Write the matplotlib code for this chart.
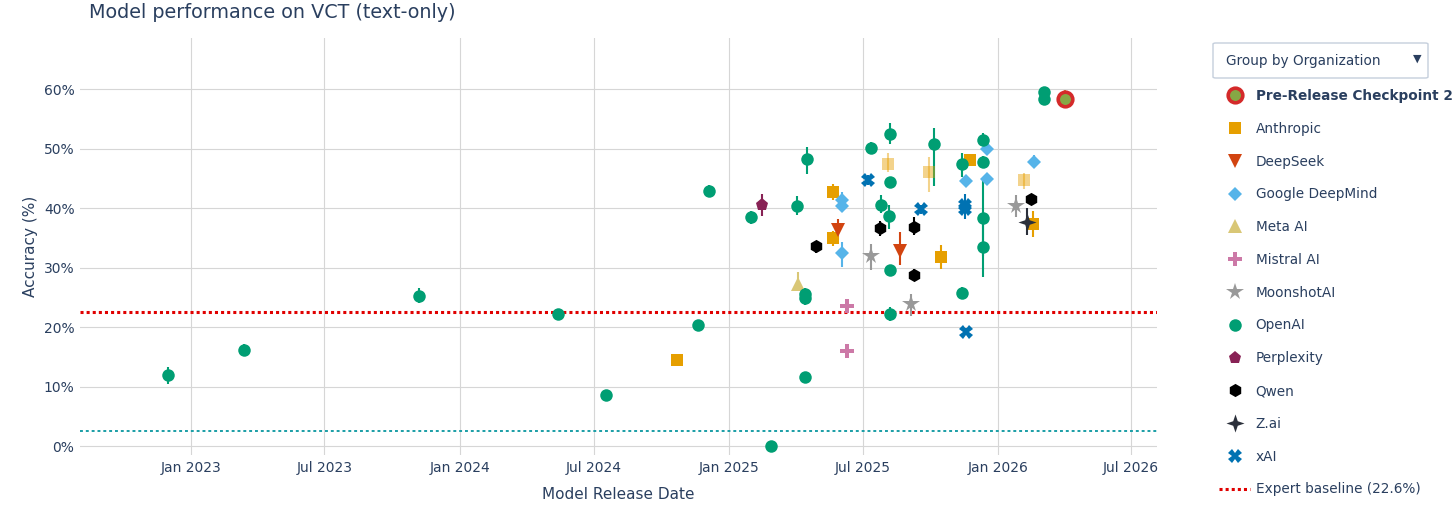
import numpy as np
import pandas as pd
import matplotlib
matplotlib.use("Agg")
import matplotlib.pyplot as plt
import matplotlib.dates as mdates
from matplotlib.lines import Line2D
from matplotlib.path import Path
from matplotlib.patches import FancyBboxPatch

# ---- values (accuracy %, error minus / plus) ----
openai_dates = ["2022-11-30", "2023-03-14", "2023-11-06", "2024-05-13", "2024-07-18",
                "2024-11-20", "2024-12-05", "2025-01-31", "2025-02-27", "2025-04-03",
                "2025-04-16", "2025-04-14", "2025-04-14", "2025-04-14", "2025-07-13",
                "2025-07-26", "2025-08-06", "2025-08-07", "2025-08-07", "2025-08-07",
                "2025-08-07", "2025-10-06", "2025-11-13", "2025-11-13", "2025-12-11",
                "2025-12-11", "2025-12-11", "2025-12-11", "2026-03-05", "2026-03-05"]
openai_acc = [11.9, 16.1, 25.3, 22.2, 8.6, 20.4, 42.9, 38.5, 0.0, 40.4,
              48.2, 25.6, 24.9, 11.6, 50.1, 40.6, 38.6, 52.5, 44.4, 29.6,
              22.2, 50.8, 47.5, 25.8, 51.4, 47.7, 38.3, 33.5, 59.6, 58.3]
openai_lo = [1.4, 1.0, 1.2, 0.6, 0.5, 0.6, 1.0, 1.1, 0.0, 1.6,
             2.4, 1.0, 1.2, 0.8, 0.8, 1.4, 2.1, 1.7, 0.6, 0.6,
             1.2, 7.0, 2.3, 1.0, 1.0, 1.0, 6.4, 5.0, 0.7, 0.8]
openai_hi = [1.4, 1.0, 1.2, 0.6, 0.5, 0.6, 1.0, 1.1, 0.0, 1.7,
             2.0, 1.0, 1.0, 0.6, 1.0, 1.6, 2.0, 1.8, 0.6, 0.6,
             1.2, 2.6, 1.8, 1.0, 1.3, 1.0, 6.4, 5.0, 0.7, 0.8]

anthropic_dates = ["2024-10-22", "2025-05-22", "2025-05-22", "2025-10-15", "2025-11-24", "2026-02-18"]
anthropic_acc = [14.5, 42.7, 34.9, 31.8, 48.1, 37.4]
anthropic_lo = [0.3, 1.3, 1.3, 2.0, 0.8, 2.3]
anthropic_hi = [0.3, 1.3, 1.3, 2.0, 0.8, 2.2]

# lighter Anthropic points
anthropic_light_dates = ["2025-08-05", "2025-09-29", "2026-02-05"]
anthropic_light_acc = [47.5, 46.1, 44.8]
anthropic_light_lo = [1.4, 3.4, 1.5]
anthropic_light_hi = [1.7, 2.5, 1.1]

deepseek_dates = ["2025-05-28", "2025-08-21"]
deepseek_acc = [36.4, 32.8]
deepseek_lo = [1.8, 2.4]
deepseek_hi = [1.8, 3.2]

google_dates = ["2025-06-03", "2025-06-03", "2025-06-03", "2025-11-18", "2025-12-17", "2025-12-17", "2026-02-19"]
google_acc = [41.4, 40.3, 32.4, 44.6, 50.0, 44.9, 47.7]
google_lo = [1.0, 0.9, 2.3, 0.8, 0.8, 0.8, 0.8]
google_hi = [1.3, 1.0, 1.9, 0.8, 0.8, 0.8, 1.3]

meta_dates = ["2025-04-05"]
meta_acc = [27.3]
meta_lo = [1.1]
meta_hi = [2.0]

mistral_dates = ["2025-06-10", "2025-06-10"]
mistral_acc = [23.6, 16.0]
mistral_lo = [1.0, 1.2]
mistral_hi = [1.0, 1.2]

moonshot_dates = ["2025-07-12", "2025-09-05", "2026-01-26"]
moonshot_acc = [31.9, 23.9, 40.4]
moonshot_lo = [2.3, 2.1, 1.9]
moonshot_hi = [2.1, 1.7, 1.8]

perplexity_dates = ["2025-02-14"]
perplexity_acc = [40.6]
perplexity_lo = [1.9]
perplexity_hi = [1.7]

qwen_dates = ["2025-04-29", "2025-07-25", "2025-09-09", "2025-09-09", "2026-02-15"]
qwen_acc = [33.6, 36.7, 36.9, 28.8, 41.5]
qwen_lo = [1.2, 1.4, 1.4, 1.1, 0.8]
qwen_hi = [0.9, 1.1, 1.6, 0.9, 0.8]

zai_dates = ["2026-02-10"]
zai_acc = [37.7]
zai_lo = [2.2]
zai_hi = [2.4]

xai_dates = ["2025-07-09", "2025-09-19", "2025-11-17", "2025-11-17", "2025-11-18"]
xai_acc = [44.7, 39.8, 40.6, 39.8, 19.2]
xai_lo = [0.8, 0.8, 1.1, 1.6, 0.6]
xai_hi = [0.8, 0.8, 1.8, 0.6, 0.6]

prerelease_dates = ["2026-04-02"]
prerelease_acc = [58.3]
prerelease_lo = [1.5]
prerelease_hi = [1.5]

expert_baseline = 22.6
low_baseline = 2.5

TXT = "#2a3f5f"

# four pointed star (plotly "star-diamond")
r = 0.36
star4 = Path([(0, 1), (r * 0.7, r * 0.7), (1, 0), (r * 0.7, -r * 0.7), (0, -1),
              (-r * 0.7, -r * 0.7), (-1, 0), (-r * 0.7, r * 0.7), (0, 1)])

# label, dates, acc, lo, hi, color, marker, size, alpha
series = [
    ("Anthropic", anthropic_dates, anthropic_acc, anthropic_lo, anthropic_hi, "#E69F00", "s", 8.5, 1.0),
    (None, anthropic_light_dates, anthropic_light_acc, anthropic_light_lo, anthropic_light_hi, "#E69F00", "s", 8.5, 0.45),
    ("DeepSeek", deepseek_dates, deepseek_acc, deepseek_lo, deepseek_hi, "#D24410", "v", 9.5, 1.0),
    ("Google DeepMind", google_dates, google_acc, google_lo, google_hi, "#56B4E9", "D", 7.5, 1.0),
    ("Meta AI", meta_dates, meta_acc, meta_lo, meta_hi, "#D9C776", "^", 9.5, 1.0),
    ("Mistral AI", mistral_dates, mistral_acc, mistral_lo, mistral_hi, "#CC79A7", "P", 10, 1.0),
    ("MoonshotAI", moonshot_dates, moonshot_acc, moonshot_lo, moonshot_hi, "#999999", "*", 13, 1.0),
    ("OpenAI", openai_dates, openai_acc, openai_lo, openai_hi, "#009E73", "o", 9, 1.0),
    ("Perplexity", perplexity_dates, perplexity_acc, perplexity_lo, perplexity_hi, "#882255", "p", 9.5, 1.0),
    ("Qwen", qwen_dates, qwen_acc, qwen_lo, qwen_hi, "#000000", "h", 9.5, 1.0),
    ("Z.ai", zai_dates, zai_acc, zai_lo, zai_hi, "#2b303b", star4, 13, 1.0),
    ("xAI", xai_dates, xai_acc, xai_lo, xai_hi, "#0072B2", "X", 10, 1.0),
]

fig = plt.figure(figsize=(14.56, 5.08), dpi=100)
ax = fig.add_axes([80 / 1456, 1 - 455 / 508, 1077 / 1456, 417 / 508])

ax.axhline(expert_baseline, color="#e00000", lw=2.2, ls=(0, (1, 1)), zorder=2)
ax.axhline(low_baseline, color="#1a9ea6", lw=1.4, ls=(0, (1.5, 1.5)), zorder=2)

handles = []
ax.errorbar(pd.to_datetime(prerelease_dates), prerelease_acc,
            yerr=[prerelease_lo, prerelease_hi], fmt="o", ms=10.5,
            mfc="#86a845", mec="#d42a2a", mew=2.6, ecolor="#b0a03a",
            elinewidth=1.5, capsize=0, zorder=4)
handles.append((Line2D([], [], ls="", marker="o", ms=10.5, mfc="#86a845",
                       mec="#d42a2a", mew=2.6), "Pre-Release Checkpoint 2"))

for label, d, acc, lo, hi, col, mk, ms, al in series:
    ax.errorbar(pd.to_datetime(d), acc, yerr=[lo, hi], fmt="none", ecolor=col,
                elinewidth=1.5, capsize=0, alpha=al, zorder=3)
    ax.plot(pd.to_datetime(d), acc, ls="", marker=mk, ms=ms, color=col,
            mew=0, alpha=al, zorder=3.5)
    if label:
        handles.append((Line2D([], [], ls="", marker=mk, ms=ms, color=col, mew=0), label))

handles.append((Line2D([], [], color="#e00000", lw=2.2, ls=(0, (1, 1))),
                "Expert baseline (22.6%)"))

ax.set_xlim(pd.Timestamp("2022-08-03"), pd.Timestamp("2026-08-05"))
ax.set_ylim(-1.5, 68.6)
ax.xaxis.set_major_locator(mdates.MonthLocator(bymonth=[1, 7]))
ax.xaxis.set_major_formatter(mdates.DateFormatter("%b %Y"))
ax.set_yticks(np.arange(0, 61, 10))
ax.set_yticklabels([f"{v}%" for v in range(0, 61, 10)])
ax.grid(color="#d6d6d6", lw=0.8)
ax.set_axisbelow(True)
for s in ax.spines.values():
    s.set_visible(False)
ax.tick_params(length=0, labelsize=10, labelcolor=TXT, pad=4)
ax.set_xlabel("Model Release Date", fontsize=11, color=TXT, labelpad=9)
ax.set_ylabel("Accuracy (%)", fontsize=11, color=TXT, labelpad=4)

fig.text(89 / 1456, 1 - 12 / 508, "Model performance on VCT (text-only)",
         fontsize=13.8, color=TXT, va="center", ha="left")

leg = fig.legend([h for h, _ in handles], [l for _, l in handles], loc="upper left",
                 bbox_to_anchor=(1219 / 1456, 1 - 89 / 508), frameon=False,
                 fontsize=9.8, handlelength=2.3, handletextpad=0.4,
                 labelspacing=1.38, borderpad=0, borderaxespad=0, labelcolor=TXT)
leg.get_texts()[0].set_fontweight("bold")

# dropdown box
box = FancyBboxPatch((1213 / 1456, 1 - 78 / 508), 215 / 1456, 35 / 508,
                     boxstyle="round,pad=0,rounding_size=0.002",
                     transform=fig.transFigure, fc="white", ec="#c5cfdc", lw=1)
fig.patches.append(box)
fig.text(1226 / 1456, 1 - 61 / 508, "Group by Organization", fontsize=9.8,
         color=TXT, va="center", ha="left")
fig.text(1417 / 1456, 1 - 59 / 508, "\u25BC", fontsize=8, color=TXT,
         va="center", ha="center")

fig.savefig("out.png", dpi=100)
